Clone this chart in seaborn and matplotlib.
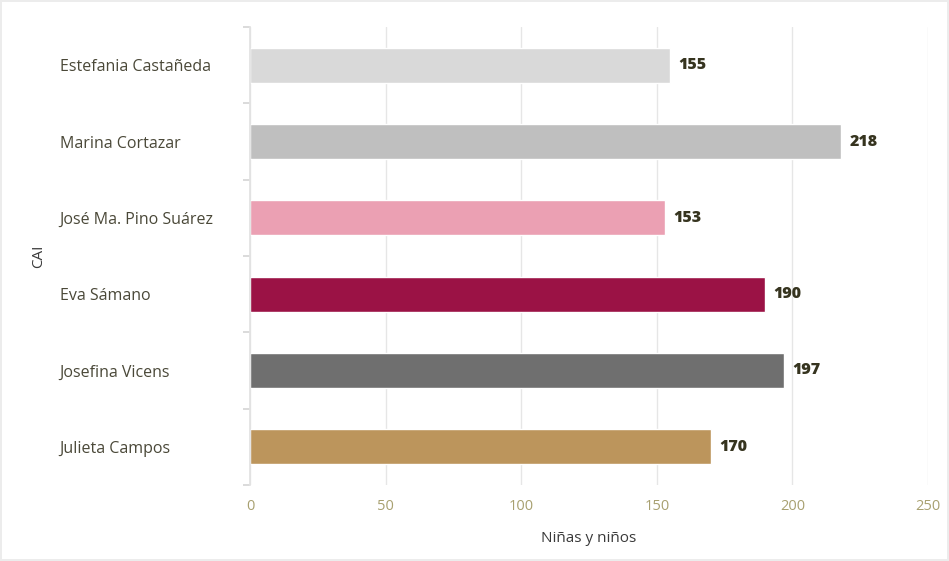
import matplotlib
matplotlib.use("Agg")
import matplotlib.pyplot as plt
import seaborn as sns
import pandas as pd
import numpy as np

# data
cai = ["Estefania Castañeda", "Marina Cortazar", "José Ma. Pino Suárez",
       "Eva Sámano", "Josefina Vicens", "Julieta Campos"]
ninos = [155, 218, 153, 190, 197, 170]
colores = ["#d9d9d9", "#bfbfbf", "#eba0b3", "#9b1245", "#6f6f6f", "#bc955c"]
xticks = [0, 50, 100, 150, 200, 250]

df = pd.DataFrame({"CAI": cai, "Niñas y niños": ninos})

sns.set_theme(style="white")
plt.rcParams["font.family"] = ["Open Sans", "DejaVu Sans"]

fig = plt.figure(figsize=(9.49, 5.61), dpi=100)
fig.patch.set_edgecolor("#ececec")
fig.patch.set_linewidth(1.5)
ax = fig.add_axes([250 / 949, 1 - 485 / 561, (928 - 250) / 949, (485 - 27) / 561])

sns.barplot(data=df, x="Niñas y niños", y="CAI", hue="CAI", palette=colores,
            legend=False, width=0.46, saturation=1, ax=ax, orient="h")

for i, v in enumerate(ninos):
    ax.text(v + 3, i, str(v), va="center", ha="left", fontsize=11.5,
            fontweight="heavy", color="#36341f")

ax.set_xlim(0, 250)
ax.set_ylim(len(cai) - 0.5, -0.5)
ax.set_xticks(xticks)
ax.set_xticklabels([str(t) for t in xticks], color="#a8a070", fontsize=10.5)
ax.grid(axis="x", color="#e6e6e6", linewidth=1)
ax.set_axisbelow(True)

ax.set_yticks(range(len(cai)))
ax.set_yticklabels(cai, fontsize=11.5, color="#4a4838", ha="left")
ax.tick_params(axis="y", length=0, pad=137)
# small ticks between the categories
ax.set_yticks(np.arange(-0.5, len(cai), 1.0), minor=True)
ax.tick_params(axis="y", which="minor", left=True, length=5, color="#d4d4d4", width=1.2)
ax.tick_params(axis="x", length=0, pad=10)

for s in ["top", "right", "bottom"]:
    ax.spines[s].set_visible(False)
ax.spines["left"].set_color("#e2e2e2")

ax.set_xlabel("Niñas y niños", fontsize=11, color="#3a3a3a", labelpad=12)
ax.set_ylabel("CAI", fontsize=11, color="#3a3a3a")
ax.yaxis.set_label_coords(-0.30, 0.5)

fig.savefig("out.png", dpi=100)
